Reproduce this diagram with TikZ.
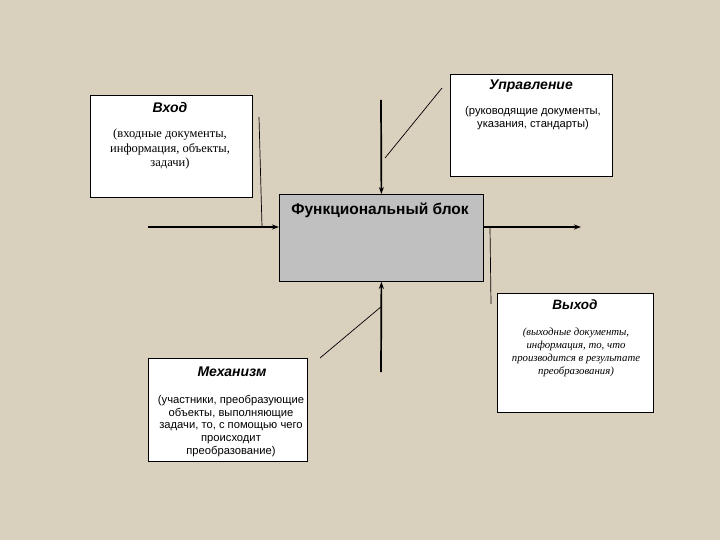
\documentclass[tikz,border=0pt]{standalone}
\usepackage{fontspec}
\setmainfont{Liberation Serif}
\setsansfont{Liberation Sans}
\usetikzlibrary{arrows.meta}
\definecolor{bg}{RGB}{218,208,190}
\definecolor{blockgray}{RGB}{192,192,192}
\tikzset{
  box/.style={draw=black, fill=white, line width=0.8pt, anchor=north west, inner sep=0pt},
  fbox/.style={draw=black, fill=blockgray, line width=0.8pt, anchor=north west, inner sep=0pt},
  ttl/.style={font=\sffamily\bfseries\itshape\fontsize{14}{16}\selectfont, inner sep=0pt, anchor=center},
  bodysans/.style={font=\sffamily\fontsize{11.2}{12.7}\selectfont, align=center, inner sep=0pt, anchor=north},
  bodyserif/.style={font=\rmfamily\fontsize{12.5}{14.5}\selectfont, align=center, inner sep=0pt, anchor=north},
  bodyital/.style={font=\rmfamily\itshape\fontsize{10.8}{12.8}\selectfont, align=center, inner sep=0pt, anchor=north},
  mainarrow/.style={line width=1.7pt, -{Stealth[length=7pt,width=5pt]}},
  thin/.style={line width=0.7pt}
}
\begin{document}
\begin{tikzpicture}[x=1pt,y=-1pt]
\fill[bg] (0,0) rectangle (720,540);
\useasboundingbox (0,0) rectangle (720,540);

% boxes
\node[box, minimum width=162pt, minimum height=102pt] (in) at (90,95) {};
\node[box, minimum width=162pt, minimum height=102pt] (ctl) at (450,74) {};
\node[fbox, minimum width=204pt, minimum height=87pt] (fb) at (279,194) {};
\node[box, minimum width=156pt, minimum height=119pt] (out) at (497,293) {};
\node[box, minimum width=159pt, minimum height=103pt] (mech) at (148,358) {};

% texts
\node[ttl] (inT) at (170,107) {Вход};
\node[bodyserif] (inB) at (170,129) {(входные документы,\\информация, объекты,\\задачи)};

\node[ttl] (ctlT) at (531,86) {Управление};
\node[bodysans] (ctlB) at (533,106) {(руководящие документы,\\указания, стандарты)};

\node[font=\sffamily\bfseries\fontsize{15.5}{17}\selectfont, inner sep=0pt, anchor=center] (fbT) at (380,210) {Функциональный блок};

\node[ttl, font=\sffamily\bfseries\itshape\fontsize{13.5}{15}\selectfont] (outT) at (575,305) {Выход};
\node[bodyital] (outB) at (576,328) {(выходные документы,\\информация, то, что\\производится в результате\\преобразования)};

\node[ttl] (mechT) at (232,372) {Механизм};
\node[bodysans] (mechB) at (231,395) {(участники, преобразующие\\объекты, выполняющие\\задачи, то, с помощью чего\\происходит\\преобразование)};

% coordinates
\coordinate (ay) at (0,227);
\coordinate (inStart) at (148,227);
\coordinate (inTop) at (259,117);
\coordinate (inBot) at (262,227);
\coordinate (ctlStart) at (381,100);
\coordinate (ctlD1) at (385,158);
\coordinate (ctlD2) at (442,88);
\coordinate (outEnd) at (581,227);
\coordinate (outTop) at (490,227);
\coordinate (outBot) at (491,304);
\coordinate (mechStart) at (381,372);
\coordinate (mechD1) at (320,358);
\coordinate (mechD2) at (382,306);

% connectors
\draw[mainarrow] (inStart) -- (fb.west |- ay);
\draw[thin] (inTop) -- (inBot);
\draw[mainarrow] (ctlStart) -- (fb.north);
\draw[thin] (ctlD1) -- (ctlD2);
\draw[mainarrow] (fb.east |- ay) -- (outEnd);
\draw[thin] (outTop) -- (outBot);
\draw[mainarrow] (mechStart) -- (fb.south);
\draw[thin] (mechD1) -- (mechD2);
\end{tikzpicture}
\end{document}
